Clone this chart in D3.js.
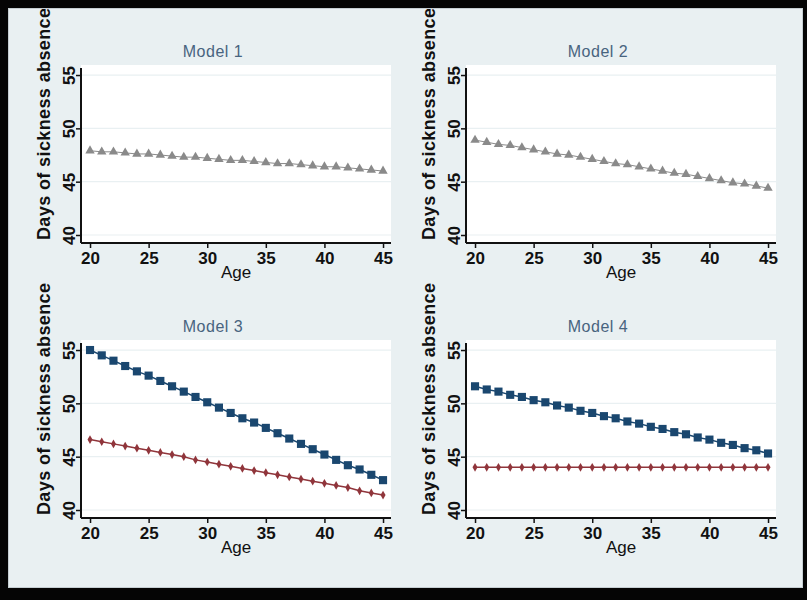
<!DOCTYPE html>
<html>
<head>
<meta charset="utf-8">
<script src="https://cdn.jsdelivr.net/npm/d3@7"></script>
<style>
  html, body { margin: 0; padding: 0; background: #fff; }
  svg { display: block; }
</style>
</head>
<body>
<div id="chart"></div>
<script>
// ── data ─────────────────────────────────────────────────────────────────
const ages = [20, 21, 22, 23, 24, 25, 26, 27, 28, 29, 30, 31, 32,
              33, 34, 35, 36, 37, 38, 39, 40, 41, 42, 43, 44, 45];

const model1Grey = [47.9, 47.8, 47.8, 47.7, 47.6, 47.6, 47.5, 47.4, 47.3, 47.3, 47.2, 47.1, 47.0,
                    47.0, 46.9, 46.8, 46.7, 46.7, 46.6, 46.5, 46.4, 46.4, 46.3, 46.2, 46.1, 46.0];
const model2Grey = [48.9, 48.7, 48.5, 48.4, 48.2, 48.0, 47.8, 47.6, 47.5, 47.3, 47.1, 46.9, 46.7,
                    46.6, 46.4, 46.2, 46.0, 45.8, 45.7, 45.5, 45.3, 45.1, 44.9, 44.8, 44.6, 44.4];
const model3Blue = [55.0, 54.5, 54.0, 53.5, 53.0, 52.6, 52.1, 51.6, 51.1, 50.6, 50.1, 49.6, 49.1,
                    48.6, 48.2, 47.7, 47.2, 46.7, 46.2, 45.7, 45.2, 44.7, 44.2, 43.8, 43.3, 42.8];
const model3Red  = [46.6, 46.4, 46.2, 46.0, 45.8, 45.6, 45.4, 45.2, 45.0, 44.7, 44.5, 44.3, 44.1,
                    43.9, 43.7, 43.5, 43.3, 43.1, 42.9, 42.7, 42.5, 42.3, 42.1, 41.8, 41.6, 41.4];
const model4Blue = [51.6, 51.3, 51.1, 50.8, 50.6, 50.3, 50.1, 49.8, 49.6, 49.3, 49.1, 48.8, 48.6,
                    48.3, 48.1, 47.8, 47.6, 47.3, 47.1, 46.8, 46.6, 46.3, 46.1, 45.8, 45.6, 45.3];
const model4Red  = [44.0, 44.0, 44.0, 44.0, 44.0, 44.0, 44.0, 44.0, 44.0, 44.0, 44.0, 44.0, 44.0,
                    44.0, 44.0, 44.0, 44.0, 44.0, 44.0, 44.0, 44.0, 44.0, 44.0, 44.0, 44.0, 44.0];

const titles = ['Model 1', 'Model 2', 'Model 3', 'Model 4'];
const xTicks = [20, 25, 30, 35, 40, 45];
const yTicks = [40, 45, 50, 55];
const xTitle = 'Age';
const yTitle = 'Days of sickness absence';

// ── look ─────────────────────────────────────────────────────────────────
const W = 807, H = 603;
const BG = '#e9f0f2';
const GREY = '#8a8a8a', NAVY = '#1a476f', MAROON = '#90353b';
const FONT = '"Liberation Sans", Arial, sans-serif';
const NARROW = '"Liberation Sans Narrow", "Liberation Sans", Arial, sans-serif';

const pw = 310, ph = 178;               // plot region size
const origins = [[81, 65], [466, 65], [81, 340], [466, 340]];

const series = [
    [{ v: model1Grey, color: GREY, shape: d3.symbolTriangle, size: 38, lw: 1 }],
    [{ v: model2Grey, color: GREY, shape: d3.symbolTriangle, size: 38, lw: 1 }],
    [{ v: model3Blue, color: NAVY, shape: d3.symbolSquare, size: 66, lw: 1.5 },
     { v: model3Red, color: MAROON, shape: d3.symbolDiamond, size: 22, lw: 1.5 }],
    [{ v: model4Blue, color: NAVY, shape: d3.symbolSquare, size: 66, lw: 1.5 },
     { v: model4Red, color: MAROON, shape: d3.symbolDiamond, size: 22, lw: 1.5 }],
];

const svg = d3.select('#chart').append('svg')
    .attr('width', W).attr('height', H);

svg.append('rect').attr('width', W).attr('height', H).attr('fill', '#fff');
svg.append('rect')
    .attr('x', 8).attr('y', 8).attr('width', 795).attr('height', 580)
    .attr('fill', BG);

// scales are shared, only the offset differs
const x = d3.scaleLinear().domain([19.23, 45.68]).range([0, pw]);
const y = d3.scaleLinear().domain([39.25, 55.94]).range([ph, 0]);

origins.forEach(([ox, oy], i) => {
    const g = svg.append('g').attr('transform', `translate(${ox},${oy})`);

    g.append('rect').attr('width', pw).attr('height', ph).attr('fill', '#fff');

    // grid lines
    g.selectAll('.grid').data(yTicks).enter().append('line')
        .attr('x1', 0).attr('x2', pw)
        .attr('y1', d => y(d)).attr('y2', d => y(d))
        .attr('stroke', BG).attr('stroke-width', 1.2);

    // x axis
    const xa = g.append('g').attr('transform', `translate(0,${ph})`)
        .call(d3.axisBottom(x).tickValues(xTicks).tickSize(5).tickPadding(4));
    xa.select('.domain').attr('d', `M0,0H${pw}`);
    // y axis
    const ya = g.append('g')
        .call(d3.axisLeft(y).tickValues(yTicks).tickSize(5));
    ya.select('.domain').attr('d', `M0,3V${ph}`);

    [xa, ya].forEach(a => {
        a.select('.domain').attr('stroke', '#111').attr('stroke-width', 2);
        a.selectAll('.tick line').attr('stroke', '#111').attr('stroke-width', 1.5);
    });
    xa.selectAll('.tick text')
        .attr('font-family', NARROW).attr('font-size', 17).attr('fill', '#111')
        .attr('font-weight', 'bold');
    ya.selectAll('.tick text')
        .attr('font-family', NARROW).attr('font-size', 17).attr('fill', '#111')
        .attr('font-weight', 'bold')
        .attr('x', 0).attr('dy', null)
        .attr('text-anchor', 'middle')
        .attr('transform', 'translate(-6,0) rotate(-90)');

    // titles
    g.append('text')
        .attr('x', (pw - 46) / 2).attr('y', -8)
        .attr('text-anchor', 'middle')
        .attr('font-family', FONT).attr('font-size', 16)
        .attr('letter-spacing', 0.5)
        .attr('fill', '#48647f')
        .text(titles[i]);

    g.append('text')
        .attr('x', pw / 2).attr('y', ph + 35)
        .attr('text-anchor', 'middle')
        .attr('font-family', NARROW).attr('font-size', 17).attr('fill', '#111')
        .text(xTitle);

    g.append('text')
        .attr('transform', `translate(-31,${ph - 3}) rotate(-90)`)
        .attr('text-anchor', 'start')
        .attr('font-family', NARROW).attr('font-size', 18).attr('fill', '#111')
        .attr('font-weight', 'bold')
        .attr('textLength', 232).attr('lengthAdjust', 'spacing')
        .text(yTitle);

    // series
    series[i].forEach(s => {
        const pts = ages.map((a, k) => [a, s.v[k]]);
        g.append('path')
            .attr('d', d3.line().x(d => x(d[0])).y(d => y(d[1]))(pts))
            .attr('fill', 'none').attr('stroke', s.color).attr('stroke-width', s.lw);
        g.selectAll(null).data(pts).enter().append('path')
            .attr('transform', d => `translate(${x(d[0])},${y(d[1])})`)
            .attr('d', d3.symbol().type(s.shape).size(s.size))
            .attr('fill', s.color);
    });
});

// black frame over everything
svg.append('path')
    .attr('fill', '#050505').attr('fill-rule', 'evenodd')
    .attr('d', `M0,0H${W}V600H0Z M8,8V588H803V8Z`);
svg.append('rect')
    .attr('x', 8.5).attr('y', 8.5).attr('width', 794).attr('height', 579)
    .attr('fill', 'none').attr('stroke', '#c5ced2');
</script>
</body>
</html>
